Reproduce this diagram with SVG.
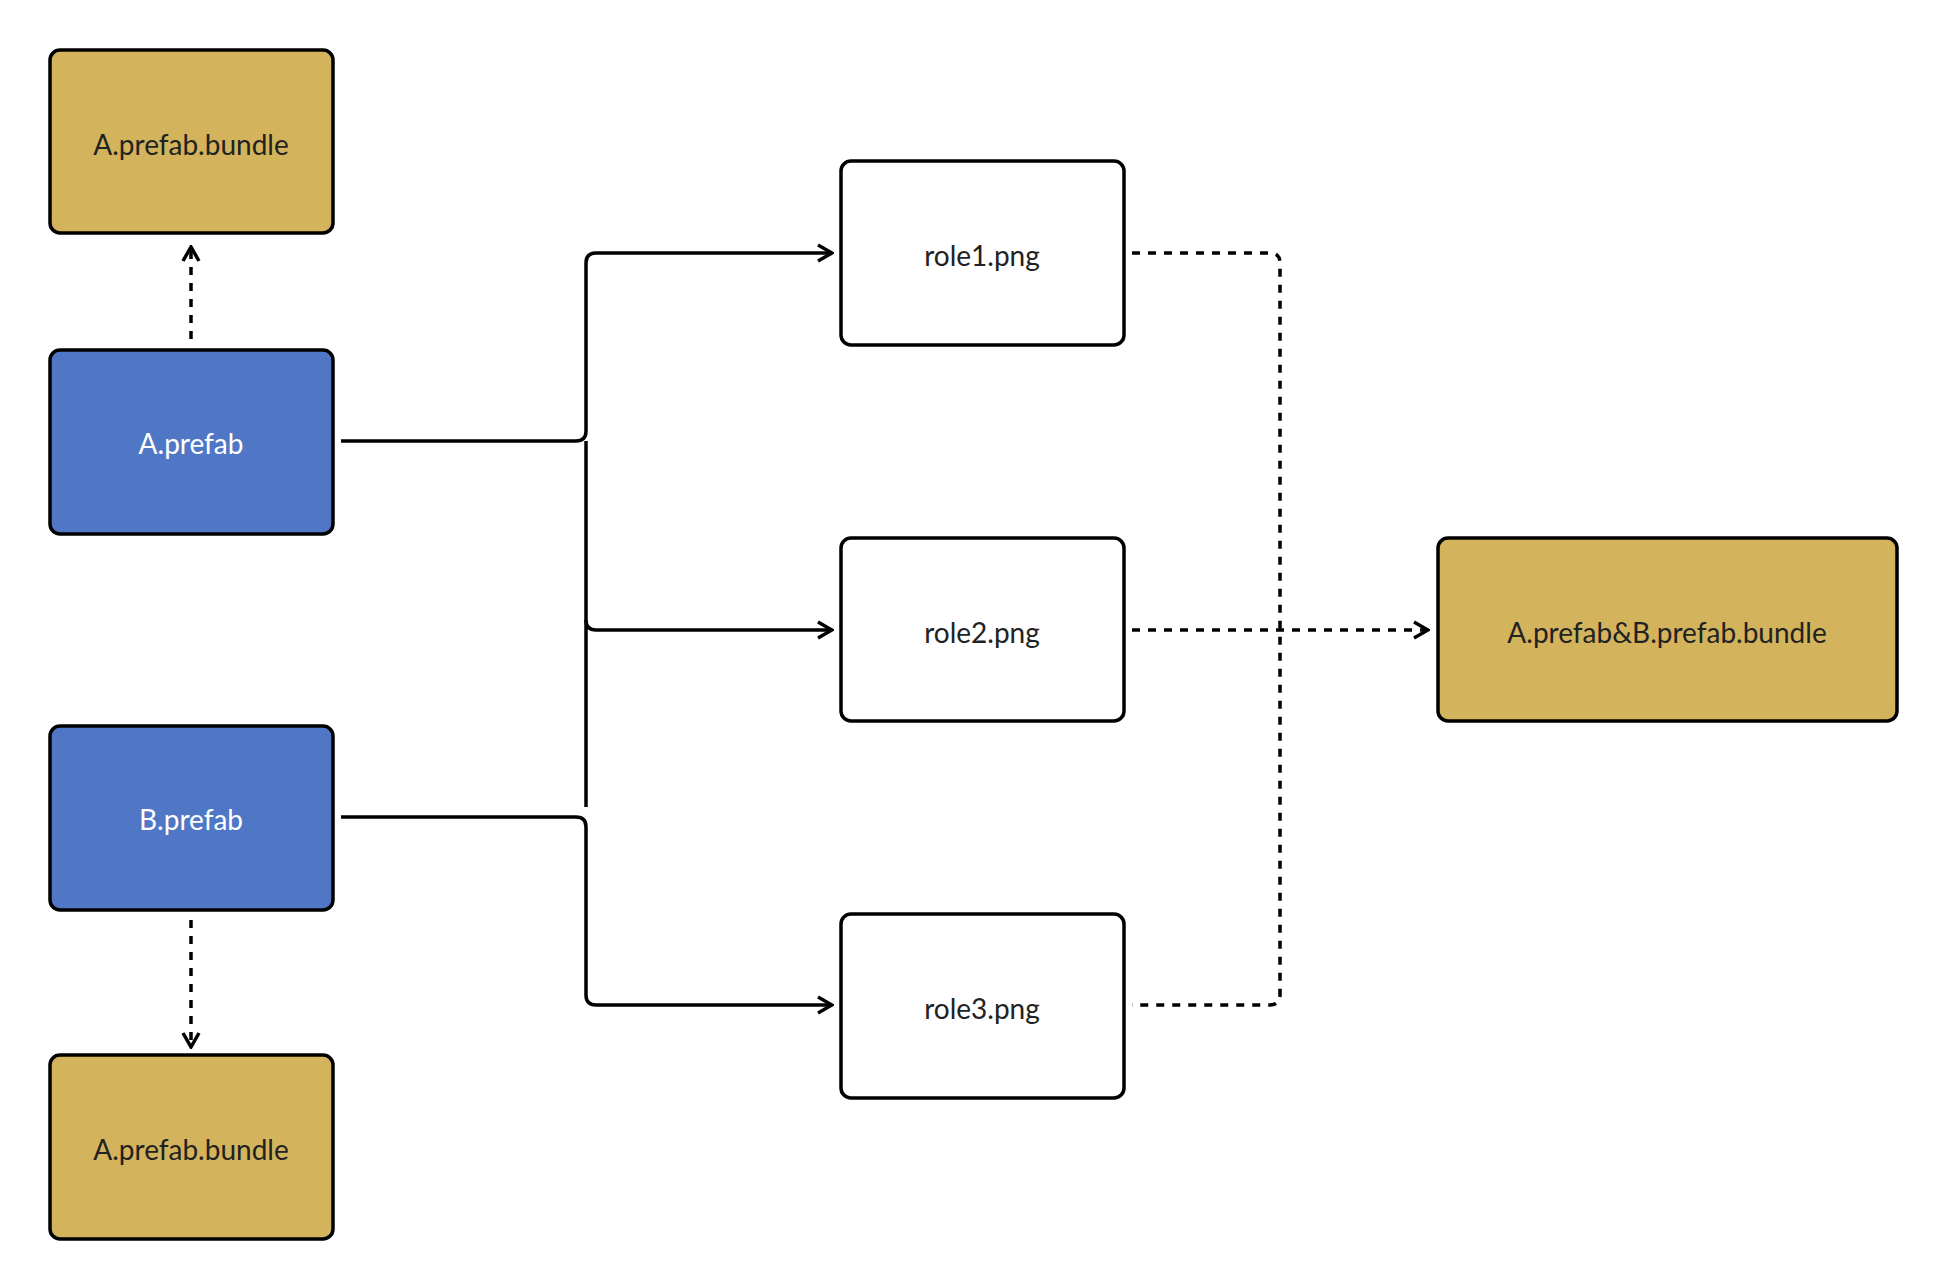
<svg xmlns="http://www.w3.org/2000/svg" width="1937" height="1283" viewBox="0 0 1937 1283">
<style>
.b{stroke:#000;stroke-width:3.5}
.gold{fill:#d3b35c}.blue{fill:#5077c5}.white{fill:#fff}
text{font-family:Lato,"Noto Sans",sans-serif;font-size:28px;text-anchor:middle;dominant-baseline:central;fill:#222}
.wt{fill:#fff}
.c{fill:none;stroke:#000;stroke-width:3.5}
.d{stroke-dasharray:8 8}
</style>
<defs><marker id="ar" viewBox="0 0 20 20" refX="18" refY="10" markerWidth="20" markerHeight="20" markerUnits="userSpaceOnUse" orient="auto"><path d="M4 2 L18 10 L4 18" fill="none" stroke="#000" stroke-width="3.5"/></marker></defs>
<g id="connectors">
<path class="c d" d="M191 339 V247" marker-end="url(#ar)"/>
<path class="c d" d="M191 920 V1047" marker-end="url(#ar)"/>
<path class="c" d="M341 441 H576 Q586 441 586 431 V263 Q586 253 596 253 H832" marker-end="url(#ar)"/>
<path class="c" d="M341 817 H576 Q586 817 586 827 V995 Q586 1005 596 1005 H832" marker-end="url(#ar)"/>
<path class="c" d="M586 441 V807"/>
<path class="c" d="M586 620 Q586 630 596 630 H832" marker-end="url(#ar)"/>
<path class="c d" d="M1132 253 H1270 Q1280 253 1280 263 V995 Q1280 1005 1270 1005 H1132"/>
<path class="c d" d="M1132 630 H1428" marker-end="url(#ar)"/>
</g>
<g id="a_bundle"><rect class="b gold" x="50" y="50" width="283" height="183" rx="10"/><text x="191" y="144">A.prefab.bundle</text></g>
<g id="a_prefab"><rect class="b blue" x="50" y="350" width="283" height="184" rx="10"/><text class="wt" x="191" y="443">A.prefab</text></g>
<g id="b_prefab"><rect class="b blue" x="50" y="726" width="283" height="184" rx="10"/><text class="wt" x="191" y="819">B.prefab</text></g>
<g id="b_bundle"><rect class="b gold" x="50" y="1055" width="283" height="184" rx="10"/><text x="191" y="1149">A.prefab.bundle</text></g>
<g id="role1"><rect class="b white" x="841" y="161" width="283" height="184" rx="10"/><text x="982" y="255">role1.png</text></g>
<g id="role2"><rect class="b white" x="841" y="538" width="283" height="183" rx="10"/><text x="982" y="632">role2.png</text></g>
<g id="role3"><rect class="b white" x="841" y="914" width="283" height="184" rx="10"/><text x="982" y="1008">role3.png</text></g>
<g id="ab_bundle"><rect class="b gold" x="1438" y="538" width="459" height="183" rx="10"/><text x="1667" y="632">A.prefab&amp;B.prefab.bundle</text></g>
</svg>
